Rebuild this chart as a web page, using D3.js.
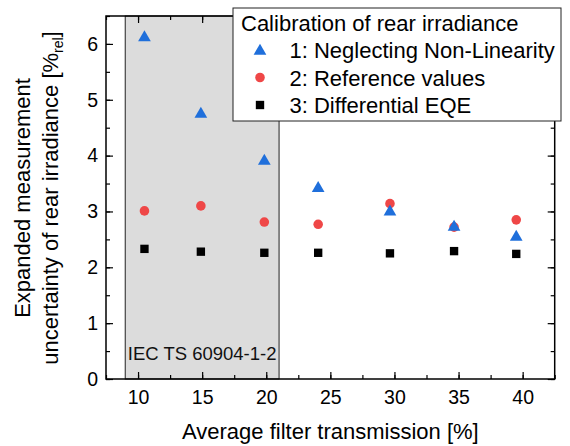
<!DOCTYPE html>
<html>
<head>
<meta charset="utf-8">
<script src="https://cdn.jsdelivr.net/npm/d3@7"></script>
<style>
  html, body { margin: 0; padding: 0; background: #fff; }
  svg { display: block; font-family: "Liberation Sans", Arial, sans-serif; }
</style>
</head>
<body>
<svg id="chart" width="570" height="446"></svg>
<script>
// ---- data ----
const transmission = [10.5, 14.9, 19.85, 24.05, 29.65, 34.65, 39.5];
const neglectingNonLinearity = [6.13, 4.76, 3.92, 3.43, 3.01, 2.74, 2.56];
const referenceValues = [3.01, 3.10, 2.81, 2.77, 3.14, 2.72, 2.85];
const differentialEQE = [2.33, 2.28, 2.26, 2.26, 2.25, 2.29, 2.24];
const seriesNames = ["1: Neglecting Non-Linearity", "2: Reference values", "3: Differential EQE"];
const legendTitle = "Calibration of rear irradiance";
const xTicks = [10, 15, 20, 25, 30, 35, 40];
const yTicks = [0, 1, 2, 3, 4, 5, 6];
const iecRange = [9, 21];
const iecLabel = "IEC TS 60904-1-2";

// ---- layout ----
const svg = d3.select("#chart");
const L = 106, T = 16, R = 554.7, B = 379;
const x = d3.scaleLinear().domain([7.5, 42.5]).range([L, R]);
const y = d3.scaleLinear().domain([0, 6.5]).range([B, T]);

const blue = "#1f6fdb", red = "#ef4747", black = "#000";

// IEC shaded region
svg.append("rect")
  .attr("x", x(iecRange[0])).attr("y", T)
  .attr("width", x(iecRange[1]) - x(iecRange[0])).attr("height", B - T)
  .attr("fill", "#dcdcdc").attr("stroke", "#222").attr("stroke-width", 1);

svg.append("text")
  .attr("x", (x(iecRange[0]) + x(iecRange[1])) / 2).attr("y", 360)
  .attr("text-anchor", "middle").attr("font-size", 18.5).attr("fill", "#111")
  .text(iecLabel);

// axes (inward ticks)
const xMinor = d3.range(7.5, 42.6, 2.5);
const yMinor = d3.range(0, 6.51, 0.5);
function axisStyle(g) {
  g.select(".domain").remove();
  g.selectAll(".tick line").attr("stroke", "#000").attr("stroke-width", 1.2);
}
// minor ticks
svg.append("g").attr("transform", `translate(0,${B})`)
  .call(d3.axisBottom(x).tickValues(xMinor).tickSize(-4).tickFormat(""))
  .call(axisStyle);
svg.append("g").attr("transform", `translate(0,${T})`)
  .call(d3.axisTop(x).tickValues(xMinor).tickSize(-4).tickFormat(""))
  .call(axisStyle);
svg.append("g").attr("transform", `translate(${L},0)`)
  .call(d3.axisLeft(y).tickValues(yMinor).tickSize(-4).tickFormat(""))
  .call(axisStyle);
svg.append("g").attr("transform", `translate(${R},0)`)
  .call(d3.axisRight(y).tickValues(yMinor).tickSize(-4).tickFormat(""))
  .call(axisStyle);
// major ticks
const xb = svg.append("g").attr("transform", `translate(0,${B})`)
  .call(d3.axisBottom(x).tickValues(xTicks).tickSize(-7).tickPadding(11).tickFormat(d3.format("d")))
  .call(axisStyle);
xb.selectAll("text").attr("font-size", 19.5).attr("fill", "#000").attr("font-family", "Liberation Sans, Arial, sans-serif");
svg.append("g").attr("transform", `translate(0,${T})`)
  .call(d3.axisTop(x).tickValues(xTicks).tickSize(-7).tickFormat(""))
  .call(axisStyle);
const yl = svg.append("g").attr("transform", `translate(${L},0)`)
  .call(d3.axisLeft(y).tickValues(yTicks).tickSize(-7).tickPadding(8).tickFormat(d3.format("d")))
  .call(axisStyle);
yl.selectAll("text").attr("font-size", 19.5).attr("fill", "#000").attr("font-family", "Liberation Sans, Arial, sans-serif");
svg.append("g").attr("transform", `translate(${R},0)`)
  .call(d3.axisRight(y).tickValues(yTicks).tickSize(-7).tickFormat(""))
  .call(axisStyle);

// frame
svg.append("rect").attr("x", L).attr("y", T).attr("width", R - L).attr("height", B - T)
  .attr("fill", "none").attr("stroke", "#000").attr("stroke-width", 1.5);

// markers
const tri = d3.symbol().type(d3.symbolTriangle).size(70);
const circ = d3.symbol().type(d3.symbolCircle).size(72);
const sq = d3.symbol().type(d3.symbolSquare).size(70);
const series = [
  { vals: neglectingNonLinearity, sym: tri, color: blue, dy: 1 },
  { vals: referenceValues, sym: circ, color: red, dy: 0 },
  { vals: differentialEQE, sym: sq, color: black, dy: 0 }
];
// draw order: squares, circles, triangles on top
[series[2], series[1], series[0]].forEach(s => {
  svg.append("g").selectAll("path").data(s.vals).join("path")
    .attr("d", s.sym)
    .attr("fill", s.color)
    .attr("transform", (d, i) => `translate(${x(transmission[i])},${y(d) + s.dy})`);
});

// legend
const lg = svg.append("g");
lg.append("rect").attr("x", 233).attr("y", 8).attr("width", 328).attr("height", 113)
  .attr("fill", "#fff").attr("stroke", "#222").attr("stroke-width", 1);
lg.append("text").attr("x", 241).attr("y", 31).attr("font-size", 22).attr("fill", "#000").text(legendTitle);
seriesNames.forEach((name, i) => {
  const cy = 50 + i * 27.5;
  lg.append("path").attr("d", series[i].sym).attr("fill", series[i].color)
    .attr("transform", `translate(260,${cy + series[i].dy})`);
  lg.append("text").attr("x", 289.5).attr("y", cy + 8).attr("font-size", 22).attr("fill", "#000").text(name);
});

// axis titles
svg.append("text").attr("x", (L + R) / 2).attr("y", 439)
  .attr("text-anchor", "middle").attr("font-size", 22).attr("fill", "#000")
  .text("Average filter transmission [%]");

const yt = svg.append("text").attr("transform", "translate(30,198) rotate(-90)")
  .attr("text-anchor", "middle").attr("font-size", 22).attr("fill", "#000");
yt.append("tspan").attr("x", 0).attr("y", 0).text("Expanded measurement");
yt.append("tspan").attr("x", 0).attr("y", 28).text("uncertainty of rear irradiance [%");
yt.append("tspan").attr("font-size", 14).attr("dy", 5).text("rel");
yt.append("tspan").attr("dy", -5).text("]");
</script>
</body>
</html>
